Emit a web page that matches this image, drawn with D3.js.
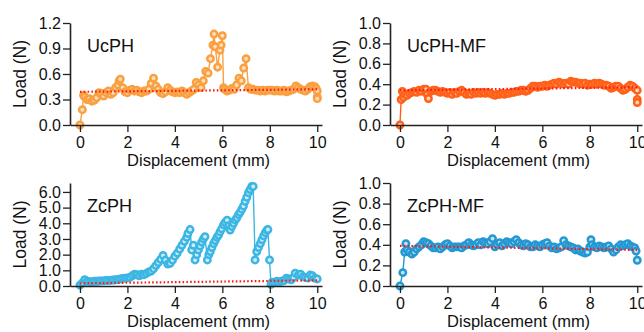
<!DOCTYPE html>
<html>
<head>
<meta charset="utf-8">
<script src="https://cdn.jsdelivr.net/npm/d3@7"></script>
<style>
  body { margin: 0; background: #fff; }
  svg { display: block; font-family: "Liberation Sans", Arial, sans-serif; }
  .tick text { font-size: 16px; fill: #111; }
</style>
</head>
<body>
<script>
// panel names
var names = ["UcPH", "UcPH-MF", "ZcPH", "ZcPH-MF"];
var xTicks = [0, 2, 4, 6, 8, 10];
var yTicks1 = [0, 0.3, 0.6, 0.9, 1.2];
var yTicks2 = [0, 0.2, 0.4, 0.6, 0.8, 1.0];
var yTicks3 = [0, 1, 2, 3, 4, 5, 6];
var yTicks4 = [0, 0.2, 0.4, 0.6, 0.8, 1.0];

// load (N) vs displacement (mm)
var ucph = [[0,0],[0.1,0.18],[0.15,0.35],[0.2,0.33],[0.3,0.30],[0.4,0.31],[0.5,0.28],[0.6,0.29],[0.7,0.32],[0.8,0.38],[0.9,0.37],[1.0,0.34],[1.1,0.38],[1.2,0.40],[1.3,0.36],[1.4,0.38],[1.5,0.44],[1.6,0.47],[1.65,0.52],[1.7,0.54],[1.8,0.44],[1.9,0.39],[2.0,0.38],[2.1,0.41],[2.2,0.42],[2.3,0.40],[2.4,0.41],[2.5,0.39],[2.6,0.38],[2.7,0.40],[2.8,0.40],[2.9,0.42],[3.0,0.49],[3.1,0.55],[3.2,0.46],[3.3,0.42],[3.4,0.38],[3.5,0.37],[3.6,0.39],[3.7,0.44],[3.8,0.41],[3.9,0.39],[4.0,0.38],[4.1,0.39],[4.2,0.38],[4.3,0.40],[4.4,0.38],[4.5,0.36],[4.6,0.38],[4.7,0.40],[4.8,0.42],[4.9,0.50],[5.0,0.47],[5.1,0.44],[5.2,0.52],[5.3,0.63],[5.4,0.61],[5.5,0.78],[5.6,0.94],[5.65,1.07],[5.7,0.92],[5.8,0.68],[5.9,0.88],[5.95,0.94],[6.0,1.05],[6.05,0.44],[6.1,0.42],[6.2,0.40],[6.3,0.41],[6.4,0.43],[6.5,0.42],[6.6,0.47],[6.7,0.55],[6.8,0.52],[6.9,0.67],[7.0,0.78],[7.1,0.44],[7.2,0.42],[7.3,0.42],[7.4,0.41],[7.5,0.41],[7.6,0.40],[7.7,0.41],[7.8,0.40],[7.9,0.41],[8.0,0.41],[8.1,0.41],[8.2,0.40],[8.3,0.41],[8.4,0.40],[8.5,0.40],[8.6,0.41],[8.7,0.39],[8.8,0.40],[8.9,0.41],[9.0,0.42],[9.1,0.46],[9.2,0.44],[9.3,0.42],[9.4,0.41],[9.5,0.40],[9.6,0.42],[9.7,0.45],[9.8,0.46],[9.9,0.45],[9.95,0.43],[10.0,0.40],[10.0,0.33],[10.0,0.31]];
var ucphMF = [[0,0],[0.05,0.25],[0.1,0.33],[0.15,0.27],[0.2,0.30],[0.3,0.29],[0.4,0.31],[0.5,0.32],[0.6,0.33],[0.7,0.32],[0.8,0.34],[0.9,0.33],[1.0,0.35],[1.1,0.35],[1.15,0.30],[1.2,0.26],[1.3,0.33],[1.4,0.34],[1.5,0.34],[1.6,0.33],[1.7,0.32],[1.8,0.33],[1.9,0.32],[2.0,0.31],[2.1,0.32],[2.2,0.30],[2.3,0.32],[2.4,0.31],[2.5,0.33],[2.6,0.34],[2.7,0.32],[2.8,0.30],[2.9,0.31],[3.0,0.30],[3.1,0.32],[3.2,0.31],[3.3,0.32],[3.4,0.31],[3.5,0.32],[3.6,0.31],[3.7,0.32],[3.8,0.31],[3.9,0.30],[4.0,0.29],[4.1,0.30],[4.2,0.30],[4.3,0.31],[4.4,0.30],[4.5,0.31],[4.6,0.31],[4.7,0.32],[4.8,0.32],[4.9,0.33],[5.0,0.33],[5.1,0.34],[5.2,0.34],[5.3,0.33],[5.4,0.34],[5.5,0.36],[5.6,0.38],[5.7,0.38],[5.8,0.37],[5.9,0.38],[6.0,0.38],[6.1,0.39],[6.2,0.38],[6.3,0.39],[6.4,0.40],[6.5,0.41],[6.6,0.40],[6.7,0.42],[6.8,0.41],[6.9,0.40],[7.0,0.41],[7.1,0.40],[7.2,0.43],[7.3,0.42],[7.4,0.42],[7.5,0.41],[7.6,0.41],[7.7,0.40],[7.8,0.41],[7.9,0.39],[8.0,0.40],[8.1,0.40],[8.2,0.41],[8.3,0.40],[8.4,0.41],[8.5,0.40],[8.6,0.39],[8.7,0.39],[8.8,0.38],[8.9,0.36],[9.0,0.37],[9.1,0.38],[9.2,0.38],[9.3,0.36],[9.4,0.34],[9.5,0.35],[9.6,0.37],[9.7,0.39],[9.8,0.38],[9.9,0.36],[10.0,0.34],[10.0,0.25],[10.0,0.22]];
var zcph = [[0,0.05],[0.1,0.2],[0.2,0.40],[0.3,0.30],[0.4,0.28],[0.5,0.28],[0.6,0.30],[0.7,0.30],[0.8,0.32],[0.9,0.33],[1.0,0.33],[1.1,0.35],[1.2,0.35],[1.3,0.37],[1.4,0.38],[1.5,0.40],[1.6,0.42],[1.7,0.45],[1.8,0.48],[1.9,0.50],[2.0,0.52],[2.1,0.55],[2.2,0.65],[2.3,0.75],[2.4,0.72],[2.5,0.65],[2.6,0.75],[2.7,0.72],[2.8,0.80],[2.9,0.90],[3.0,0.95],[3.1,1.10],[3.2,1.30],[3.3,1.50],[3.4,1.70],[3.5,1.95],[3.6,1.65],[3.7,1.40],[3.8,1.45],[3.9,1.65],[4.0,1.90],[4.1,2.10],[4.2,2.35],[4.3,2.60],[4.4,2.85],[4.5,3.10],[4.55,3.35],[4.64,3.60],[4.71,2.30],[4.78,2.60],[4.85,1.66],[4.92,2.00],[4.99,2.30],[5.06,2.55],[5.13,2.80],[5.2,3.00],[5.27,3.15],[5.37,1.66],[5.43,2.00],[5.49,2.20],[5.56,2.45],[5.63,2.70],[5.7,2.90],[5.77,3.10],[5.84,3.25],[5.9,3.45],[5.97,3.65],[6.05,3.90],[6.12,4.05],[6.2,4.20],[6.27,3.85],[6.33,3.57],[6.4,3.80],[6.47,4.00],[6.54,4.20],[6.61,4.35],[6.68,4.55],[6.75,4.70],[6.82,4.90],[6.89,5.10],[6.96,5.40],[7.03,5.65],[7.1,5.95],[7.17,6.15],[7.24,6.35],[7.3,6.35],[7.38,1.66],[7.45,2.20],[7.52,2.45],[7.6,2.70],[7.67,2.95],[7.74,3.20],[7.81,3.40],[7.88,3.57],[7.92,3.60],[7.99,1.66],[8.05,0.10],[8.1,0.25],[8.2,0.25],[8.3,0.30],[8.4,0.28],[8.5,0.30],[8.6,0.35],[8.7,0.50],[8.8,0.45],[8.9,0.40],[9.0,0.55],[9.07,0.82],[9.2,0.70],[9.3,0.75],[9.4,0.60],[9.5,0.55],[9.6,0.50],[9.7,0.70],[9.8,0.65],[9.9,0.50],[10.0,0.45]];
var zcphMF = [[0,0],[0.12,0.13],[0.2,0.33],[0.25,0.41],[0.3,0.35],[0.4,0.33],[0.5,0.31],[0.6,0.33],[0.7,0.36],[0.8,0.38],[0.9,0.40],[1.0,0.43],[1.1,0.42],[1.2,0.41],[1.3,0.39],[1.4,0.37],[1.5,0.37],[1.6,0.38],[1.7,0.36],[1.8,0.38],[1.9,0.40],[2.0,0.41],[2.1,0.39],[2.2,0.37],[2.3,0.38],[2.4,0.38],[2.5,0.38],[2.6,0.37],[2.7,0.39],[2.8,0.40],[2.9,0.42],[3.0,0.40],[3.1,0.39],[3.2,0.40],[3.3,0.42],[3.4,0.40],[3.5,0.43],[3.6,0.42],[3.7,0.41],[3.8,0.43],[3.9,0.46],[4.0,0.38],[4.1,0.40],[4.2,0.42],[4.3,0.39],[4.4,0.41],[4.5,0.43],[4.6,0.42],[4.7,0.41],[4.8,0.43],[4.9,0.45],[5.0,0.42],[5.1,0.40],[5.2,0.39],[5.3,0.41],[5.4,0.40],[5.5,0.38],[5.6,0.38],[5.7,0.40],[5.8,0.39],[5.9,0.38],[6.0,0.40],[6.1,0.41],[6.2,0.42],[6.3,0.39],[6.4,0.37],[6.5,0.38],[6.6,0.36],[6.7,0.37],[6.8,0.38],[6.9,0.44],[7.0,0.40],[7.1,0.39],[7.2,0.38],[7.3,0.37],[7.4,0.35],[7.5,0.36],[7.6,0.34],[7.7,0.33],[7.8,0.32],[7.9,0.33],[8.0,0.38],[8.05,0.45],[8.1,0.40],[8.2,0.38],[8.3,0.37],[8.4,0.39],[8.5,0.38],[8.6,0.37],[8.7,0.38],[8.8,0.39],[8.9,0.36],[9.0,0.33],[9.1,0.35],[9.2,0.38],[9.3,0.40],[9.4,0.39],[9.5,0.40],[9.6,0.41],[9.7,0.39],[9.8,0.38],[9.9,0.37],[9.95,0.34],[10.0,0.25]];

// red dotted mean lines
var ucphFit = [[0,0.39],[10,0.42]];
var ucphMFFit = [[0,0.34],[10,0.37]];
var zcphFit = [[0,0.17],[10,0.36]];
var zcphMFFit = [[0,0.39],[10,0.35]];

var W = 644, H = 332;
var svg = d3.select("body").append("svg").attr("width", W).attr("height", H);

var panels = [
  {name: names[0], data: ucph, fit: ucphFit, ticks: yTicks1, ymax: 1.2, ox: 70, top: 23, bottom: 125, color: "#F9A040", tint: "#FDE0BE"},
  {name: names[1], data: ucphMF, fit: ucphMFFit, ticks: yTicks2, ymax: 1.0, ox: 390, top: 23, bottom: 125, color: "#FF6118", tint: "#FFD2BC"},
  {name: names[2], data: zcph, fit: zcphFit, ticks: yTicks3, ymax: 6.57, ox: 70, top: 183, bottom: 286, color: "#3CB6E3", tint: "#CDEDF8"},
  {name: names[3], data: zcphMF, fit: zcphMFFit, ticks: yTicks4, ymax: 1.0, ox: 390, top: 183, bottom: 286, color: "#2498D2", tint: "#C6E4F4"}
];

panels.forEach(function(p) {
  var g = svg.append("g");
  var x = d3.scaleLinear().domain([-0.42, 10.2]).range([p.ox, p.ox + 252]);
  var y = d3.scaleLinear().domain([0, p.ymax]).range([p.bottom, p.top]);

  var line = d3.line().x(function(d) { return x(d[0]); }).y(function(d) { return y(d[1]); });

  g.append("path").datum(p.data)
    .attr("d", line)
    .attr("fill", "none")
    .attr("stroke", p.color)
    .attr("stroke-width", 1.4);

  g.selectAll("circle").data(p.data).enter().append("circle")
    .attr("cx", function(d) { return x(d[0]); })
    .attr("cy", function(d) { return y(d[1]); })
    .attr("r", 3.2)
    .attr("fill", p.tint)
    .attr("stroke", p.color)
    .attr("stroke-width", 2.5);

  g.append("path").datum(p.fit)
    .attr("d", line)
    .attr("fill", "none")
    .attr("stroke", "#FF1A1A")
    .attr("stroke-width", 2.2)
    .attr("stroke-dasharray", "1.6,2.2");

  // axes
  var xa = g.append("g").attr("transform", "translate(0," + p.bottom + ")")
    .call(d3.axisBottom(x).tickValues(xTicks).tickSize(7).tickSizeOuter(0).tickFormat(d3.format("d")));
  var ya = g.append("g").attr("transform", "translate(" + p.ox + ",0)")
    .call(d3.axisLeft(y).tickValues(p.ticks).tickSize(7).tickSizeOuter(0).tickFormat(d3.format(".1f")));
  [xa, ya].forEach(function(a) {
    a.select(".domain").attr("stroke", "#222").attr("stroke-width", 1.6);
    a.selectAll(".tick line").attr("stroke", "#222").attr("stroke-width", 1.3);
  });
  xa.selectAll(".tick text").attr("dy", "0.75em").attr("y", 11);
  ya.selectAll(".tick text").attr("x", -9);

  g.append("text")
    .attr("x", p.ox + 17).attr("y", p.top + 29)
    .attr("font-size", 18).attr("fill", "#111")
    .text(p.name);

  g.append("text")
    .attr("x", x(5)).attr("y", p.bottom + 41)
    .attr("text-anchor", "middle")
    .attr("font-size", 16.5).attr("fill", "#111")
    .text("Displacement (mm)");

  g.append("text")
    .attr("transform", "translate(" + (p.ox - 44) + "," + ((p.top + p.bottom) / 2) + ") rotate(-90)")
    .attr("text-anchor", "middle")
    .attr("font-size", 17.5).attr("fill", "#111")
    .text("Load (N)");
});
</script>
</body>
</html>
